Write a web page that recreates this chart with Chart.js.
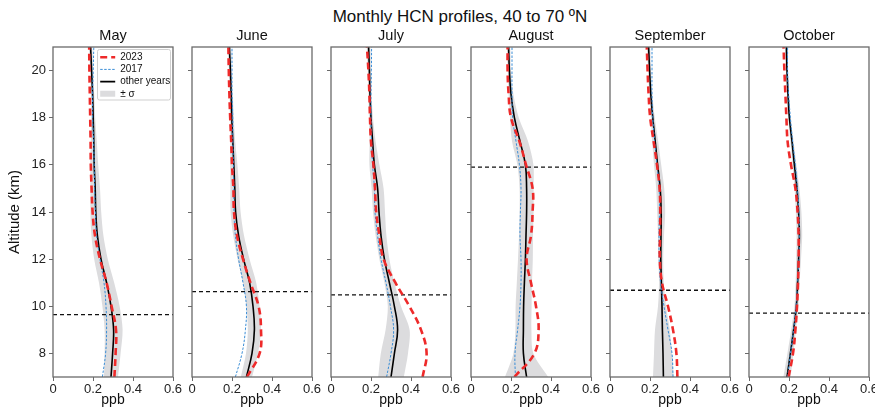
<!DOCTYPE html>
<html>
<head>
<meta charset="utf-8">
<title>Monthly HCN profiles</title>
<script src="https://cdn.jsdelivr.net/npm/chart.js@4.4.1/dist/chart.umd.min.js"></script>
<style>
  html, body { margin: 0; padding: 0; background: #fff; overflow: hidden; }
  #page { position: relative; width: 875px; height: 407px; font-family: 'Liberation Sans', Arial, sans-serif; }
  #main-title { position: absolute; left: 45px; width: 830px; top: 7px; text-align: center; font-size: 17px; line-height: 20px; color: #111; }
  .panel { position: absolute; top: 0; height: 407px; }
</style>
</head>
<body>
<div id="page">
  <div id="main-title">Monthly HCN profiles, 40 to 70 ºN</div>
</div>
<script>
const FONT = "'Liberation Sans', Arial, sans-serif";

// altitude levels of every profile (km), bottom to top
const altitudeKm = [7, 8, 9, 10, 11, 12, 13, 14, 15, 16, 17, 18, 19, 20, 21];
const xTicks = [0, 0.2, 0.4, 0.6];
const yTicks = [8, 10, 12, 14, 16, 18, 20];
const monthNames = ['May', 'June', 'July', 'August', 'September', 'October'];

// HCN mixing ratio (ppb) at each altitude level
const mayOther = [0.290, 0.298, 0.303, 0.290, 0.268, 0.240, 0.222, 0.214, 0.211, 0.206, 0.204, 0.201, 0.198, 0.193, 0.188];
const may2023  = [0.307, 0.313, 0.315, 0.293, 0.268, 0.235, 0.210, 0.198, 0.193, 0.189, 0.188, 0.186, 0.184, 0.182, 0.181];
const may2017  = [0.247, 0.263, 0.268, 0.265, 0.255, 0.235, 0.218, 0.212, 0.208, 0.206, 0.203, 0.198, 0.198, 0.201, 0.204];
const maySigma = [0.035, 0.040, 0.045, 0.043, 0.038, 0.034, 0.030, 0.027, 0.024, 0.020, 0.015, 0.010, 0.008, 0.007, 0.007];

const juneOther = [0.272, 0.300, 0.312, 0.305, 0.288, 0.258, 0.233, 0.218, 0.214, 0.209, 0.204, 0.199, 0.196, 0.192, 0.187];
const june2023  = [0.275, 0.338, 0.345, 0.333, 0.292, 0.255, 0.225, 0.210, 0.207, 0.200, 0.196, 0.191, 0.187, 0.184, 0.182];
const june2017  = [0.217, 0.250, 0.267, 0.272, 0.255, 0.233, 0.217, 0.210, 0.209, 0.207, 0.204, 0.204, 0.200, 0.200, 0.200];
const juneSigma = [0.028, 0.030, 0.033, 0.033, 0.033, 0.030, 0.027, 0.025, 0.022, 0.018, 0.012, 0.010, 0.008, 0.007, 0.007];

const julyOther = [0.300, 0.317, 0.333, 0.317, 0.292, 0.267, 0.250, 0.240, 0.233, 0.217, 0.208, 0.200, 0.195, 0.192, 0.188];
const july2023  = [0.458, 0.478, 0.450, 0.392, 0.322, 0.263, 0.242, 0.226, 0.220, 0.212, 0.200, 0.195, 0.192, 0.187, 0.180];
const july2017  = [0.278, 0.300, 0.313, 0.297, 0.275, 0.250, 0.233, 0.220, 0.217, 0.208, 0.203, 0.200, 0.200, 0.202, 0.203];
const julySigma = [0.064, 0.068, 0.060, 0.033, 0.025, 0.025, 0.027, 0.030, 0.030, 0.025, 0.015, 0.010, 0.008, 0.008, 0.008];

const augOther = [0.278, 0.262, 0.262, 0.263, 0.267, 0.272, 0.275, 0.278, 0.278, 0.272, 0.245, 0.217, 0.200, 0.192, 0.188];
const aug2023  = [0.217, 0.317, 0.338, 0.325, 0.300, 0.278, 0.300, 0.308, 0.308, 0.275, 0.242, 0.200, 0.188, 0.183, 0.183];
const aug2017  = [0.222, 0.220, 0.233, 0.245, 0.250, 0.250, 0.245, 0.247, 0.250, 0.242, 0.225, 0.208, 0.205, 0.205, 0.205];
const augSigma = [0.108, 0.050, 0.040, 0.040, 0.038, 0.037, 0.035, 0.035, 0.035, 0.040, 0.040, 0.022, 0.012, 0.008, 0.007];

const sepOther = [0.267, 0.265, 0.262, 0.260, 0.257, 0.254, 0.255, 0.256, 0.251, 0.238, 0.226, 0.214, 0.204, 0.198, 0.193];
const sep2023  = [0.337, 0.332, 0.315, 0.290, 0.260, 0.249, 0.250, 0.251, 0.248, 0.235, 0.218, 0.201, 0.193, 0.188, 0.184];
const sep2017  = [0.315, 0.310, 0.290, 0.270, 0.253, 0.246, 0.245, 0.247, 0.246, 0.235, 0.223, 0.214, 0.210, 0.210, 0.210];
const sepSigma = [0.052, 0.045, 0.037, 0.020, 0.012, 0.012, 0.015, 0.020, 0.020, 0.018, 0.015, 0.010, 0.008, 0.007, 0.007];

const octOther = [0.190, 0.207, 0.223, 0.237, 0.243, 0.248, 0.252, 0.248, 0.240, 0.227, 0.215, 0.202, 0.195, 0.190, 0.187];
const oct2023  = [0.198, 0.220, 0.232, 0.240, 0.245, 0.248, 0.248, 0.243, 0.232, 0.210, 0.193, 0.187, 0.182, 0.177, 0.173];
const oct2017  = [0.193, 0.207, 0.223, 0.235, 0.243, 0.250, 0.252, 0.250, 0.242, 0.232, 0.218, 0.207, 0.198, 0.193, 0.193];
const octSigma = [0.018, 0.015, 0.012, 0.010, 0.010, 0.012, 0.014, 0.014, 0.012, 0.010, 0.008, 0.006, 0.005, 0.005, 0.005];

// tropopause height per month (km)
const tropopauseKm = [9.65, 10.62, 10.48, 15.9, 10.68, 9.71];

const profiles = [
  { other: mayOther,  y2023: may2023,  y2017: may2017,  sigma: maySigma },
  { other: juneOther, y2023: june2023, y2017: june2017, sigma: juneSigma },
  { other: julyOther, y2023: july2023, y2017: july2017, sigma: julySigma },
  { other: augOther,  y2023: aug2023,  y2017: aug2017,  sigma: augSigma },
  { other: sepOther,  y2023: sep2023,  y2017: sep2017,  sigma: sepSigma },
  { other: octOther,  y2023: oct2023,  y2017: oct2017,  sigma: octSigma }
];

// left edge of each plot area on the page, and its width
const plotLeft = [53, 192, 331, 471, 610, 749];
const plotWidth = 120;
const rightPad = 14;

function toPoints(values) {
  return values.map((v, k) => ({ x: v, y: altitudeKm[k] }));
}

// closed outline: up the left edge of the band, back down the right edge
function bandPoints(mean, sigma) {
  const lower = mean.map((v, k) => ({ x: v - sigma[k], y: altitudeKm[k] }));
  const upper = mean.map((v, k) => ({ x: v + sigma[k], y: altitudeKm[k] })).reverse();
  return lower.concat(upper);
}

// box round each panel
const framePlugin = {
  id: 'frame',
  afterDatasetsDraw(chart) {
    const { ctx, chartArea: a } = chart;
    ctx.save();
    ctx.strokeStyle = '#6a6a6a';
    ctx.lineWidth = 1.3;
    ctx.strokeRect(a.left, a.top, a.right - a.left, a.bottom - a.top);
    ctx.restore();
  }
};

// put the legend in the top right corner of the plot, with a light box behind it
const legendCorner = {
  id: 'legendCorner',
  beforeDraw(chart) {
    const lg = chart.legend;
    if (!lg || !lg.options.display) return;
    const a = chart.chartArea;
    lg.left = a.right - 75;
    lg.top = a.top + 3;
    lg.right = lg.left + lg.width;
    lg.bottom = lg.top + lg.height;
    const ctx = chart.ctx;
    ctx.save();
    ctx.fillStyle = 'rgba(255,255,255,0.85)';
    ctx.strokeStyle = '#cfcfcf';
    ctx.lineWidth = 1;
    ctx.beginPath();
    ctx.roundRect(a.right - 75.5, a.top + 2.5, 73, 50.5, 2);
    ctx.fill();
    ctx.stroke();
    ctx.restore();
  }
};

function legendLabels(chart) {
  const items = Chart.defaults.plugins.legend.labels.generateLabels(chart);
  return items.filter(it => it.text).map(it => {
    const ds = chart.data.datasets[it.datasetIndex];
    it.lineDash = ds.borderDash || [];
    it.lineWidth = ds.borderWidth;
    it.strokeStyle = ds.borderColor;
    it.fillStyle = ds.backgroundColor;
    return it;
  });
}

const page = document.getElementById('page');

monthNames.forEach((month, i) => {
  const first = i === 0;
  const yWidth = first ? plotLeft[0] : 10;
  const box = document.createElement('div');
  box.className = 'panel';
  box.style.left = (plotLeft[i] - yWidth) + 'px';
  box.style.width = (yWidth + plotWidth + rightPad) + 'px';
  const canvas = document.createElement('canvas');
  box.appendChild(canvas);
  page.appendChild(box);

  const p = profiles[i];
  const tp = tropopauseKm[i];

  new Chart(canvas.getContext('2d'), {
    type: 'scatter',
    data: {
      datasets: [
        {
          label: '2023', data: toPoints(p.y2023),
          borderColor: '#ee2a2a', backgroundColor: '#ee2a2a',
          borderWidth: 2.6, borderDash: [7, 4], pointStyle: 'line'
        },
        {
          label: '2017', data: toPoints(p.y2017),
          borderColor: '#3a8dd6', backgroundColor: '#3a8dd6',
          borderWidth: 1, borderDash: [2.5, 1.5], pointStyle: 'line'
        },
        {
          label: 'other years', data: toPoints(p.other),
          borderColor: '#000000', backgroundColor: '#000000',
          borderWidth: 1.6, pointStyle: 'line'
        },
        {
          label: '', data: [{ x: xTicks[0], y: tp }, { x: xTicks[xTicks.length - 1], y: tp }],
          borderColor: '#111111', borderWidth: 1.3, borderDash: [4, 3], tension: 0
        },
        {
          label: '± σ', data: bandPoints(p.other, p.sigma),
          borderWidth: 0, borderColor: 'rgba(0,0,0,0)', backgroundColor: '#dcdcde',
          fill: 'shape', pointStyle: 'rect', tension: 0.3
        }
      ]
    },
    options: {
      responsive: true,
      maintainAspectRatio: false,
      animation: false,
      events: [],
      showLine: true,
      elements: {
        point: { radius: 0, hoverRadius: 0 },
        line: { tension: 0.4 }
      },
      layout: { padding: { left: 0, right: rightPad, top: 0, bottom: 0 } },
      plugins: {
        tooltip: { enabled: false },
        title: {
          display: true, text: month, fullSize: false, color: '#111',
          font: { size: 14.5, family: FONT, weight: 'normal' },
          padding: { top: 27, bottom: 2.6 }
        },
        legend: {
          display: first,
          position: 'chartArea',
          align: 'start',
          labels: {
            usePointStyle: true, pointStyleWidth: 15, boxHeight: 6, padding: 2.2,
            color: '#111', font: { size: 10, family: FONT },
            generateLabels: legendLabels
          }
        }
      },
      scales: {
        x: {
          type: 'linear', min: 0, max: 0.6,
          afterBuildTicks: s => { s.ticks = xTicks.map(v => ({ value: v })); },
          afterFit: s => { s.height = 30; },
          ticks: {
            color: '#222', padding: 1, maxRotation: 0, autoSkip: false,
            font: { size: 13, family: FONT },
            callback: v => String(v)
          },
          grid: { drawOnChartArea: false, drawTicks: true, tickLength: 4, color: '#6a6a6a' },
          border: { display: false },
          title: {
            display: true, text: 'ppb', color: '#111', padding: 0,
            font: { size: 14, family: FONT, lineHeight: 1 }
          }
        },
        y: {
          type: 'linear', min: 7, max: 21,
          afterBuildTicks: s => { s.ticks = yTicks.map(v => ({ value: v })); },
          afterFit: s => { s.width = yWidth; },
          ticks: {
            display: first, color: '#222', padding: 3,
            font: { size: 13, family: FONT },
            callback: v => String(v)
          },
          grid: { drawOnChartArea: false, drawTicks: true, tickLength: 4, color: '#6a6a6a' },
          border: { display: false },
          title: {
            display: first, text: 'Altitude (km)', color: '#111',
            font: { size: 15, family: FONT },
            padding: { top: 6, bottom: 0 }
          }
        }
      }
    },
    plugins: [legendCorner, framePlugin]
  });
});
</script>
</body>
</html>
